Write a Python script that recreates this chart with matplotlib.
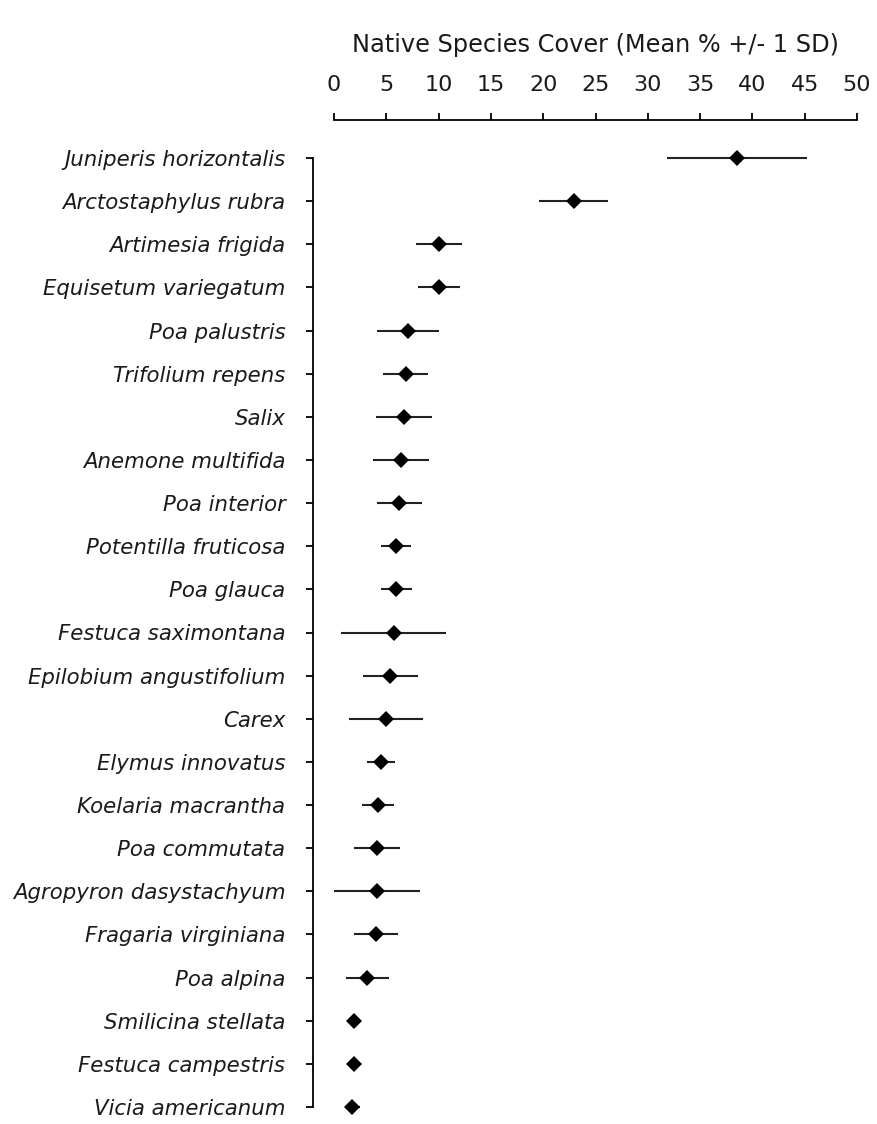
import matplotlib
matplotlib.use('Agg')
import matplotlib.pyplot as plt
import numpy as np

#%% data (mean cover % and 1 SD)

species = ['Juniperis horizontalis', 'Arctostaphylus rubra', 'Artimesia frigida',
           'Equisetum variegatum', 'Poa palustris', 'Trifolium repens', 'Salix',
           'Anemone multifida', 'Poa interior', 'Potentilla fruticosa', 'Poa glauca',
           'Festuca saximontana', 'Epilobium angustifolium', 'Carex',
           'Elymus innovatus', 'Koelaria macrantha', 'Poa commutata',
           'Agropyron dasystachyum', 'Fragaria virginiana', 'Poa alpina',
           'Smilicina stellata', 'Festuca campestris', 'Vicia americanum']

mean_cover = [38.5, 22.9, 10.0, 10.0, 7.1, 6.85, 6.7, 6.4, 6.25, 5.95, 5.95,
              5.7, 5.4, 4.95, 4.5, 4.2, 4.1, 4.1, 4.0, 3.2, 1.9, 1.9, 1.75]

sd_cover = [6.7, 3.3, 2.2, 2.0, 2.95, 2.15, 2.7, 2.7, 2.15, 1.45, 1.5,
            5.0, 2.65, 3.55, 1.3, 1.5, 2.2, 4.1, 2.1, 2.1, 0.3, 0.7, 0.7]

xticks = [0, 5, 10, 15, 20, 25, 30, 35, 40, 45, 50]

#%% plot

plt.rcParams['font.family'] = ['DejaVu Sans']
txt_col = '#1a1a1a'

W, H = 877, 1124
fig = plt.figure(figsize=(W / 100, H / 100), dpi=100)

# axes box: x axis line at top (y=120px), last row at y=1107px
ax = fig.add_axes([334 / W, (H - 1107) / H, (857 - 334) / W, (1107 - 120) / H])

rows = np.arange(len(species))
row_px = (1107 - 158) / (len(species) - 1)

eb = ax.errorbar(mean_cover, rows, xerr=sd_cover, fmt='D', color='black',
                 ecolor='#222222', elinewidth=1.5, capsize=0, markersize=8.5,
                 markeredgewidth=0)
for a in eb.lines[0:1] + tuple(eb.lines[2]):
    a.set_clip_on(False)

ax.set_xlim(0, 50)
ax.set_ylim(len(species) - 1, -(158 - 120) / row_px)

ax.xaxis.tick_top()
ax.set_xticks(xticks)
ax.set_yticks(rows)

for s in ['right', 'bottom']:
    ax.spines[s].set_visible(False)
ax.spines['top'].set_linewidth(1.3)
ax.spines['left'].set_linewidth(1.3)
ax.spines['left'].set_position(('outward', 15))
ax.spines['left'].set_bounds(0, len(species) - 1)

ax.tick_params(axis='x', direction='out', length=5, width=1.3, pad=13,
               labelsize=16, labelcolor=txt_col)
ax.tick_params(axis='y', direction='out', length=5, width=1.3, pad=15)
ax.set_yticklabels(species, fontstyle='italic', fontsize=15.3, color=txt_col)

fig.text(596 / W, 1 - 45 / H, 'Native Species Cover (Mean % +/- 1 SD)',
         ha='center', va='center', fontsize=17.3, color=txt_col)

fig.savefig('out.png', dpi=100)
